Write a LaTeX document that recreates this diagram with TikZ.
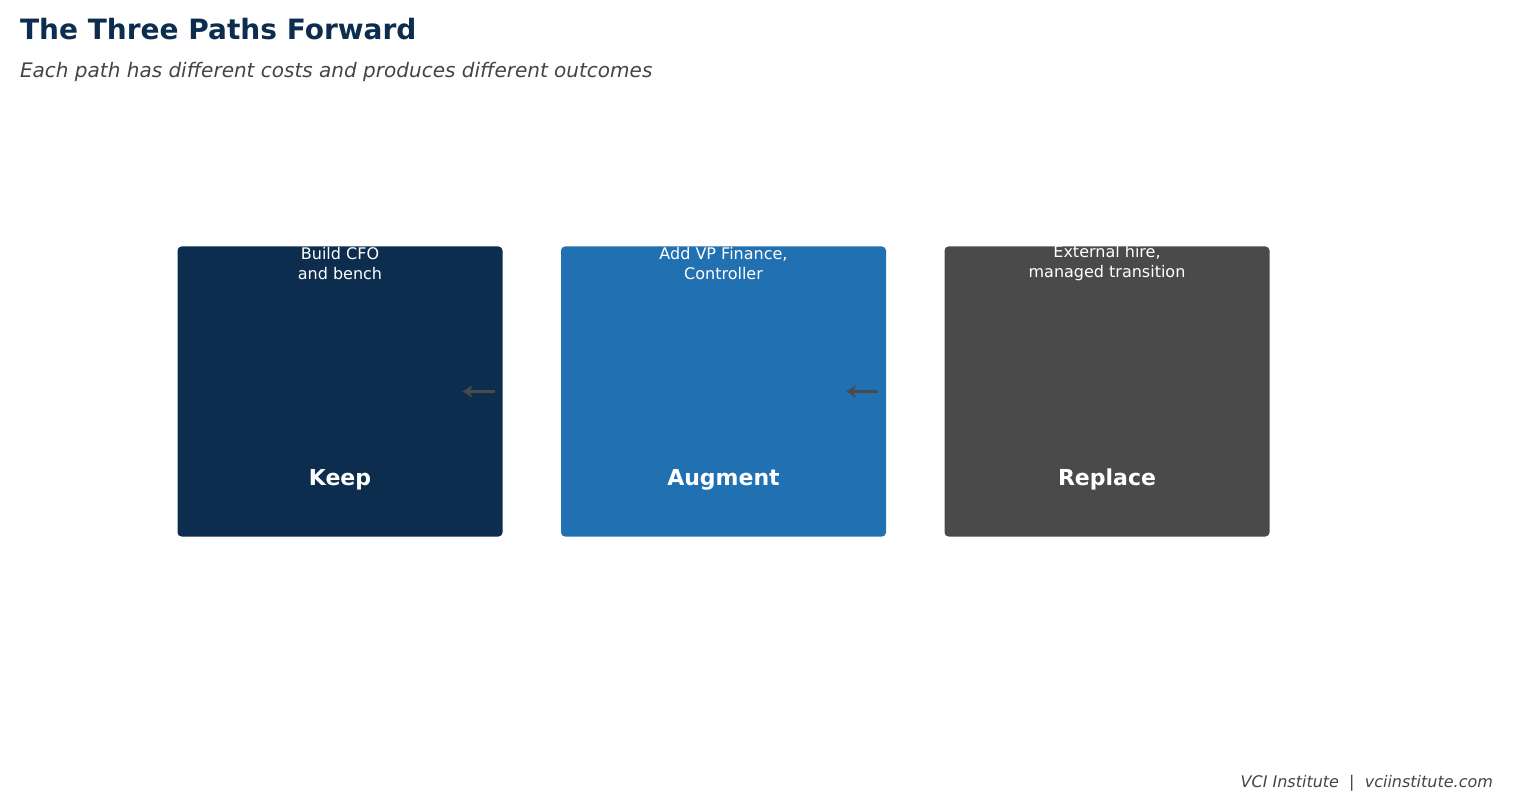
\documentclass[tikz,border=0pt]{standalone}
\usepackage{fontspec}
\setmainfont{DejaVu Sans}
\usetikzlibrary{positioning,arrows.meta}
\definecolor{navy}{HTML}{0C2D4E}
\definecolor{midblue}{HTML}{2170B2}
\definecolor{darkgray}{HTML}{4A4A4A}
\definecolor{subgray}{HTML}{444444}
\tikzset{
  path box/.style={rounded corners=2pt, minimum width=162.5pt, minimum height=145pt, inner sep=0pt},
  flow/.style={-{Stealth[length=5pt,width=6pt]}, line width=1.5pt, draw=darkgray},
}
\begin{document}
\begin{tikzpicture}[x=0.5pt,y=-0.5pt]
  \useasboundingbox (0,0) rectangle (1515,807);
  % header
  \node[anchor=west, text=navy, font=\fontsize{14}{16}\selectfont\bfseries] (title) at (13,29) {The Three Paths Forward};
  \node[anchor=west, text=subgray, font=\fontsize{10}{12}\selectfont\itshape] (subtitle) at (13,72) {Each path has different costs and produces different outcomes};
  % boxes
  \node[path box, fill=navy] (keep) at (340,391.5) {};
  \node[path box, fill=midblue] (augment) at (723.5,391.5) {};
  \node[path box, fill=darkgray] (replace) at (1107,391.5) {};
  \foreach \b/\t/\d in {keep/Keep/{Build CFO\\and bench}, augment/Augment/{Add VP Finance,\\Controller}, replace/Replace/{External hire,\\managed transition}}{
    \node[text=white, font=\fontsize{11}{13}\selectfont\bfseries] (\b-title) at ([yshift=-44]\b.center) {\t};
    \node[text=white, align=center, font=\fontsize{8}{10}\selectfont] (\b-text) at ([yshift=64]\b.center) {\d};
  }
  % arrows
  \draw[flow] ([xshift=-4]keep.east) -- ([xshift=-49]augment.west);
  \draw[flow] ([xshift=-4]augment.east) -- ([xshift=-49]replace.west);
  % footer
  \node[anchor=east, text=subgray, font=\fontsize{8}{10}\selectfont\itshape] (footer) at (1500,783) {VCI Institute \ | \ vciinstitute.com};
\end{tikzpicture}
\end{document}
